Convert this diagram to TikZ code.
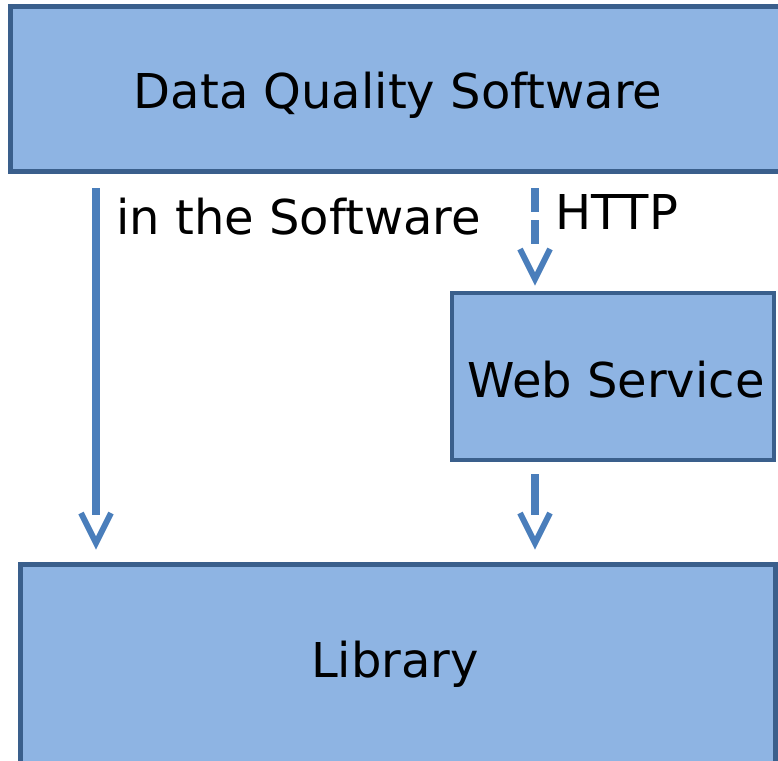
\documentclass[tikz,border=0pt]{standalone}
\usepackage{fontspec}
\setmainfont{DejaVu Sans}
\definecolor{boxfill}{HTML}{8EB4E3}
\definecolor{boxline}{HTML}{3A5F8C}
\definecolor{arrowcol}{HTML}{4A7EBB}
\begin{document}
\begin{tikzpicture}[x=1pt,y=1pt,
  box/.style={draw=boxline, fill=boxfill, line width=4.5pt, inner sep=0pt, outer sep=0pt},
  shaft/.style={draw=arrowcol, line width=7.5pt},
  vhead/.style={draw=arrowcol, line width=6pt, miter limit=10},
  txt/.style={font=\fontsize{48}{57}\selectfont, inner sep=0pt},
  lbl/.style={txt, anchor=base west}]
\useasboundingbox (0,0) rectangle (778,-760);
\clip (0,0) rectangle (778,-760);
\node[box, anchor=north west, minimum width=790pt, minimum height=165pt] (dqs) at (10.5,-6.5) {};
\node[txt, anchor=base] (dqst) at (398,-108) {Data Quality Software};
\node[box, anchor=north west, minimum width=322pt, minimum height=167pt] (ws) at (452,-293) {};
\node[txt, anchor=base] (wst) at (616,-397) {Web Service};
\node[box, anchor=north west, minimum width=755pt, minimum height=220pt] (lib) at (20.5,-564.5) {};
\node[txt, anchor=base] (libt) at (395,-677) {Library};
\coordinate (a1s) at (96,-188);
\coordinate (a1e) at (96,-543);
\coordinate (a2s) at (535,-188);
\coordinate (a2e) at (535,-279);
\coordinate (a3s) at (535,-474);
\coordinate (a3e) at (535,-543);
% connector 1
\draw[shaft] (a1s) -- ([yshift=28pt]a1e);
\draw[vhead] ([shift={(-15,30)}]a1e) -- (a1e) -- ([shift={(15,30)}]a1e);
% connector 2 (dashed)
\draw[shaft, dash pattern=on 24pt off 8pt] (a2s) -- ([yshift=29pt]a2e);
\draw[vhead] ([shift={(-15,30)}]a2e) -- (a2e) -- ([shift={(15,30)}]a2e);
% connector 3
\draw[shaft] (a3s) -- ([yshift=28pt]a3e);
\draw[vhead] ([shift={(-15,30)}]a3e) -- (a3e) -- ([shift={(15,30)}]a3e);
\node[lbl] (l1) at (116,-234) {in the Software};
\node[lbl] (l2) at (555,-229) {HTTP};
\end{tikzpicture}
\end{document}
